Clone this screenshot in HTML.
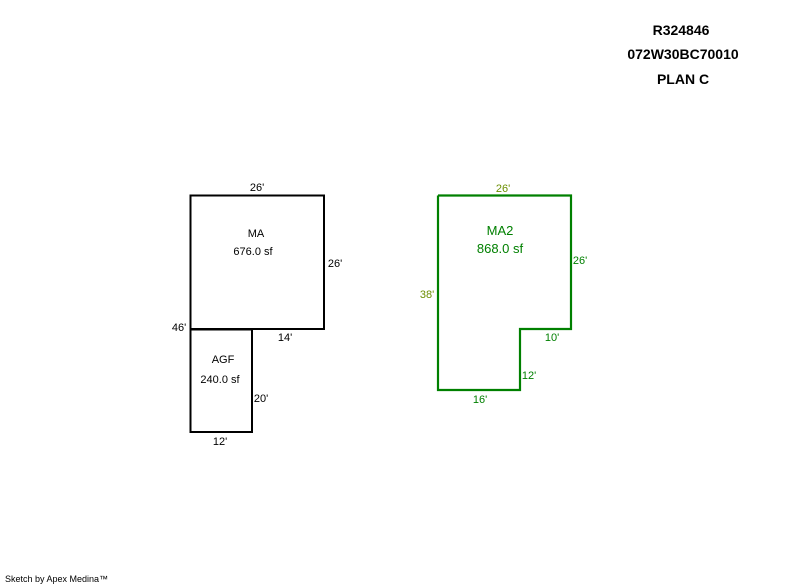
<!DOCTYPE html>
<html><head><style>
body{margin:0;background:#fff;}
svg{display:block;}
text{font-family:"Liberation Sans",Arial,sans-serif;}
</style></head><body>
<svg width="800" height="587" viewBox="0 0 800 587">
<g font-weight="bold" font-size="14" text-anchor="middle" fill="#000">
<text x="681" y="35">R324846</text>
<text x="683" y="59">072W30BC70010</text>
<text x="683" y="84">PLAN C</text>
</g>
<g fill="none" stroke="#000" stroke-width="2">
<rect x="190.5" y="195.5" width="133.5" height="133.5"/>
<rect x="190.5" y="329.5" width="61.5" height="102.5"/>
</g>
<polyline points="438,195.5 571,195.5 571,329 520,329 520,390 438,390 438,195.5" fill="none" stroke="#008000" stroke-width="2.2"/>
<g font-size="11" fill="#000" text-anchor="middle">
<text x="257" y="191">26'</text>
<text x="256" y="237">MA</text>
<text x="253" y="255">676.0 sf</text>
<text x="335" y="267">26'</text>
<text x="179" y="331">46'</text>
<text x="285" y="341">14'</text>
<text x="223" y="363">AGF</text>
<text x="220" y="383">240.0 sf</text>
<text x="261" y="402">20'</text>
<text x="220" y="445">12'</text>
</g>
<g font-size="11" fill="#008000" text-anchor="middle">
<text x="503" y="192" fill="#6b8e00">26'</text>
<text x="500" y="235" font-size="13">MA2</text>
<text x="500" y="253" font-size="13">868.0 sf</text>
<text x="580" y="264">26'</text>
<text x="427" y="298" fill="#6b8e00">38'</text>
<text x="552" y="341">10'</text>
<text x="529" y="379">12'</text>
<text x="480" y="403">16'</text>
</g>
<text x="5" y="582" font-size="9" fill="#000">Sketch by Apex Medina™</text>
</svg>
</body></html>
